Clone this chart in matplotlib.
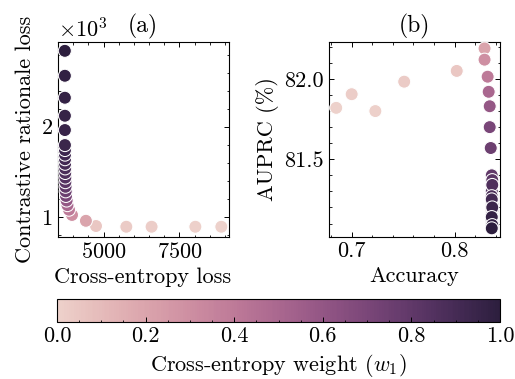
import matplotlib
matplotlib.use("Agg")
import matplotlib.pyplot as plt
import numpy as np
import seaborn as sns
from matplotlib.ticker import MultipleLocator, FixedLocator
from matplotlib.cm import ScalarMappable
from matplotlib.colors import Normalize

plt.rcParams['font.family'] = 'serif'
plt.rcParams['font.serif'] = ['cmr10']
plt.rcParams['mathtext.fontset'] = 'cm'
plt.rcParams['axes.formatter.use_mathtext'] = True
plt.rcParams['axes.unicode_minus'] = False

# Cross-entropy weight of each run
weights = [0.0, 0.01, 0.02, 0.03, 0.05,
           0.2, 0.3, 0.4, 0.5, 0.6, 0.7, 0.75,
           0.8, 0.82, 0.84, 0.86, 0.88, 0.9, 0.91, 0.92, 0.93, 0.94,
           0.95, 0.96, 0.97, 0.98, 1.0]

# Panel (a)
ce_loss = [8883, 8027, 6583, 5750, 4750,
           4417, 3958, 3858, 3808, 3780, 3760, 3750,
           3745, 3740, 3738, 3735, 3733, 3730, 3728, 3727, 3726, 3725,
           3724, 3724, 3723, 3723, 3722]
rationale_loss = [889, 889, 889, 889, 897,
                  955, 1020, 1078, 1129, 1180, 1231, 1282,
                  1333, 1384, 1435, 1486, 1537, 1588, 1639, 1690, 1741, 1796,
                  1963, 2122, 2322, 2566, 2843]

# Panel (b)
accuracy = [0.685, 0.723, 0.700, 0.751, 0.802,
            0.829, 0.829, 0.832, 0.833, 0.834, 0.834, 0.835,
            0.836, 0.8365, 0.836, 0.8365, 0.836, 0.8365, 0.836, 0.8365, 0.836, 0.8365,
            0.836, 0.8365, 0.836, 0.8365, 0.836]
auprc = [81.82, 81.80, 81.905, 81.983, 82.05,
         82.19, 82.12, 82.014, 81.92, 81.83, 81.70, 81.57,
         81.40, 81.37, 81.30, 81.34, 81.27, 81.22, 81.25, 81.18, 81.15, 81.20,
         81.12, 81.10, 81.14, 81.09, 81.07]

cmap = sns.cubehelix_palette(as_cmap=True)
norm = Normalize(0, 1)

W, H = 515, 379
fig = plt.figure(figsize=(W / 100, H / 100), dpi=100)

def px(l, t, r, b):
    return [l / W, 1 - b / H, (r - l) / W, (b - t) / H]

ax1 = fig.add_axes(px(57.5, 42, 228.5, 237))
ax2 = fig.add_axes(px(329, 42, 500, 237))
cax = fig.add_axes(px(57, 299, 500, 322))

FS = 16
MS = 88

for ax in (ax1, ax2):
    ax.tick_params(which='both', direction='in', top=True, right=True,
                   labelsize=FS)
    ax.tick_params(which='major', length=3.5, width=0.7)
    ax.tick_params(which='minor', length=1.8, width=0.6)
    for s in ax.spines.values():
        s.set_linewidth(0.8)

ax1.scatter(ce_loss, rationale_loss, c=weights, cmap=cmap, norm=norm,
            s=MS, edgecolors='white', linewidths=0.75, zorder=3)
ax1.set_xlim(3480, 9120)
ax1.set_ylim(775, 2941)
ax1.xaxis.set_major_locator(FixedLocator([5000, 7500]))
ax1.xaxis.set_minor_locator(MultipleLocator(500))
ax1.yaxis.set_major_locator(MultipleLocator(1000))
ax1.yaxis.set_minor_locator(MultipleLocator(200))
ax1.ticklabel_format(axis='y', style='sci', scilimits=(0, 0))
ax1.yaxis.get_offset_text().set_fontsize(FS)
ax1.set_xlabel('Cross-entropy loss', fontsize=FS)
ax1.set_ylabel('Contrastive rationale loss', fontsize=FS)
ax1.set_title('(a)', fontsize=17, pad=7)

ax2.scatter(accuracy, auprc, c=weights, cmap=cmap, norm=norm,
            s=MS, edgecolors='white', linewidths=0.75, zorder=3)
ax2.set_xlim(0.678, 0.844)
ax2.set_ylim(81.016, 82.23)
ax2.xaxis.set_major_locator(MultipleLocator(0.1))
ax2.xaxis.set_minor_locator(MultipleLocator(0.02))
ax2.yaxis.set_major_locator(MultipleLocator(0.5))
ax2.yaxis.set_minor_locator(MultipleLocator(0.1))
ax2.xaxis.set_major_formatter(plt.FuncFormatter(lambda v, p: f'{v:.1f}'))
ax2.yaxis.set_major_formatter(plt.FuncFormatter(lambda v, p: f'{v:.1f}'))
ax2.set_xlabel('Accuracy', fontsize=FS)
ax2.set_ylabel('AUPRC (%)', fontsize=FS)
ax2.set_title('(b)', fontsize=17, pad=7)

sm = ScalarMappable(norm=norm, cmap=cmap)
cb = fig.colorbar(sm, cax=cax, orientation='horizontal')
cb.outline.set_linewidth(0.8)
cb.set_ticks([0.0, 0.2, 0.4, 0.6, 0.8, 1.0])
cb.ax.xaxis.set_minor_locator(MultipleLocator(0.05))
cb.ax.tick_params(which='both', direction='in', labelsize=FS)
cb.ax.tick_params(which='major', length=3.5, width=0.7)
cb.ax.tick_params(which='minor', length=1.8, width=0.6)
cb.ax.xaxis.set_major_formatter(plt.FuncFormatter(lambda v, p: f'{v:.1f}'))
cb.set_label(r'Cross-entropy weight ($w_1$)', fontsize=FS)

fig.savefig('out.png', dpi=100)
